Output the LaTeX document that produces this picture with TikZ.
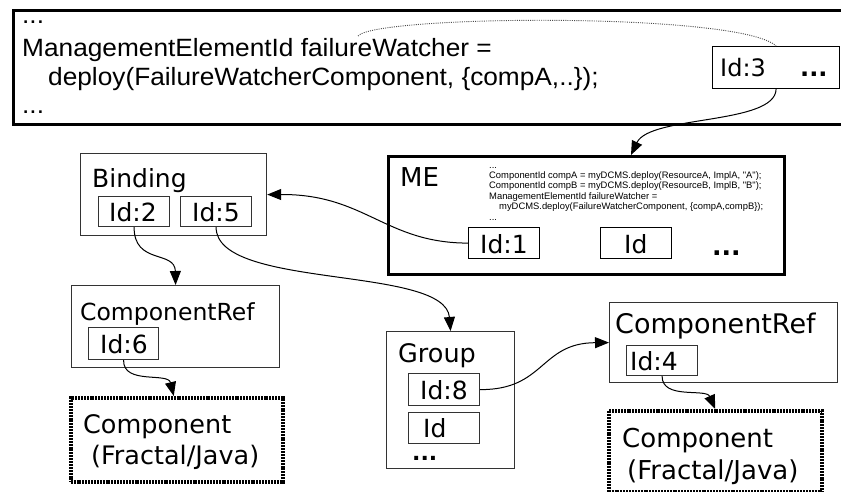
\documentclass[tikz,border=0pt]{standalone}
\usepackage{fontspec}
\setmainfont{DejaVu Sans}
\newfontfamily\codefont{Liberation Sans}
\newfontfamily\widecode[FakeStretch=1.05]{Liberation Sans}
\usetikzlibrary{arrows.meta}
\begin{document}
\begin{tikzpicture}[x=1pt,y=-1pt,
  box/.style={draw=black!80, line width=1.2pt, inner sep=0pt, anchor=north west},
  thickbox/.style={draw=black, line width=2.8pt, inner sep=0pt, anchor=north west},
  dotbox/.style={draw=black, line width=3.5pt, dash pattern=on 2pt off 0.9pt, inner sep=0pt, anchor=north west},
  txt/.style={inner sep=0pt, anchor=base west, font=\fontsize{#1pt}{#1pt}\selectfont},
  code/.style={inner sep=0pt, anchor=base west, font=\codefont\fontsize{#1pt}{#1pt}\selectfont},
  bigcode/.style={inner sep=0pt, anchor=base west, font=\widecode\fontsize{25pt}{25pt}\selectfont},
  conn/.style={line width=1pt, -{Triangle[length=14pt,width=11pt]}},
  dotconn/.style={line width=0.9pt, draw=black!70, dash pattern=on 1pt off 1.2pt}
]
\useasboundingbox (0,0) rectangle (841,492);

% top code box
\node[thickbox, minimum width=834pt, minimum height=114pt] (top) at (12,9) {};
\node[bigcode] (t1) at (22,24) {...};
\node[bigcode] (t2) at (22,57) {ManagementElementId failureWatcher =};
\node[bigcode] (t3) at (48,86) {deploy(FailureWatcherComponent, \{compA,..\});};
\node[bigcode] (t4) at (22,114) {...};
\coordinate (fw) at (358,36);
\node[box, draw=black, minimum width=127pt, minimum height=42pt] (id3) at (712,46) {};
\node[txt=24] (id3t) at (720,77) {Id:3};
\node[txt=24, font=\fontsize{24pt}{24pt}\selectfont\bfseries] (id3d) at (800,77) {...};

% ME box
\node[thickbox, minimum width=396pt, minimum height=118pt] (me) at (387,155) {};
\node[txt=26] (met) at (400,186) {ME};
\node[code=9.4] (mc1) at (489,168) {...};
\node[code=9.4] (mc2) at (489,178.4) {ComponentId compA = myDCMS.deploy(ResourceA, ImplA, "A");};
\node[code=9.4] (mc3) at (489,188.8) {ComponentId compB = myDCMS.deploy(ResourceB, ImplB, "B");};
\node[code=9.4] (mc4) at (489,199.2) {ManagementElementId failureWatcher =};
\node[code=9.4] (mc5) at (499,209.6) {myDCMS.deploy(FailureWatcherComponent, \{compA,compB\});};
\node[code=9.4] (mc6) at (489,220) {...};
\node[box, draw=black, minimum width=71pt, minimum height=31pt] (id1) at (468,227) {};
\node[txt=25] (id1t) at (480,253) {Id:1};
\node[box, draw=black, minimum width=71pt, minimum height=31pt] (idme) at (600,227) {};
\node[txt=25] (idmet) at (624,253) {Id};
\node[txt=25, font=\fontsize{25pt}{25pt}\selectfont\bfseries] (med) at (712,255) {...};

% Binding
\node[box, minimum width=186pt, minimum height=82pt] (binding) at (80,153) {};
\node[txt=25] (bindt) at (92,188) {Binding};
\node[box, minimum width=71pt, minimum height=30pt] (id2) at (98,196) {};
\node[txt=25] (id2t) at (109,221) {Id:2};
\node[box, minimum width=71pt, minimum height=30pt] (id5) at (180,196) {};
\node[txt=25] (id5t) at (192,221) {Id:5};

% ComponentRef left
\node[box, minimum width=208pt, minimum height=82pt] (cr1) at (71,285) {};
\node[txt=23.5] (cr1t) at (80,320) {ComponentRef};
\node[box, minimum width=70pt, minimum height=32pt] (id6) at (88,327) {};
\node[txt=25] (id6t) at (100,353) {Id:6};

% Component left
\node[dotbox, minimum width=212pt, minimum height=84pt] (comp1) at (69,396) {};
\node[txt=25.5] (comp1a) at (83,433) {Component};
\node[txt=25.5] (comp1b) at (91,464) {(Fractal/Java)};

% Group
\node[box, minimum width=128pt, minimum height=137pt] (group) at (386,331) {};
\node[txt=25.5] (groupt) at (398,362) {Group};
\node[box, minimum width=71pt, minimum height=32pt] (id8) at (408,373) {};
\node[txt=25] (id8t) at (420,399) {Id:8};
\node[box, minimum width=71pt, minimum height=31pt] (idg) at (408,412) {};
\node[txt=25] (idgt) at (423,437) {Id};
\node[txt=22, font=\fontsize{22pt}{22pt}\selectfont\bfseries] (gd) at (412,460) {...};

% ComponentRef right
\node[box, minimum width=228pt, minimum height=80pt] (cr2) at (609,302) {};
\node[txt=27] (cr2t) at (615,333) {ComponentRef};
\node[box, minimum width=71pt, minimum height=30pt] (id4) at (626,345) {};
\node[txt=25] (id4t) at (630,370) {Id:4};

% Component right
\node[dotbox, minimum width=213pt, minimum height=81pt] (comp2) at (607,409) {};
\node[txt=26] (comp2a) at (622,447) {Component};
\node[txt=26] (comp2b) at (627,479) {(Fractal/Java)};

% connectors
\draw[dotconn] (fw) .. controls (375,15) and (740,12) .. (id3.north);
\draw[conn] (id3.south) .. controls (775,125) and (650,115) .. ([xshift=244pt]me.north west);
\draw[conn] (id1.west) .. controls (385,243) and (365,194) .. (binding.east);
\draw[conn] (id2.south) .. controls (134,265) and (175,250) .. (cr1.north);
\draw[conn] (id5.south) .. controls (216,290) and (445,265) .. (group.north);
\draw[conn] (id6.south) .. controls (123,385) and (168,372) .. ([xshift=-3pt]comp1.north);
\draw[conn] (id8.east) .. controls (545,390) and (540,343) .. (cr2.west);
\draw[conn] (id4.south) .. controls (662,400) and (706,388) .. (comp2.north);
\end{tikzpicture}
\end{document}
